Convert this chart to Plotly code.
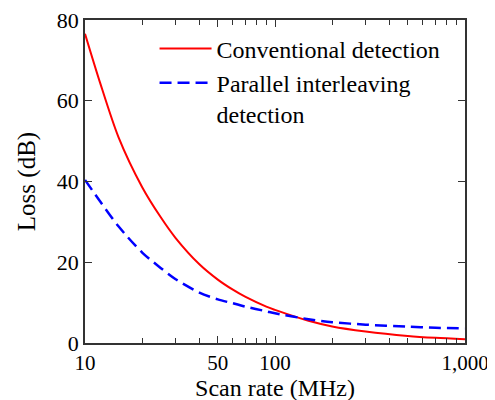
import plotly.graph_objects as go

scan_rate = [10, 12, 15, 20, 25, 30, 40, 50, 60, 70, 90, 100, 150, 200, 300, 500, 700, 1000]
conventional = [76.6, 64.5, 51.0, 38.6, 31.2, 26.0, 19.5, 15.7, 13.2, 11.4, 9.0, 8.2, 5.5, 4.1, 2.85, 1.75, 1.28, 0.92]
parallel = [40.4, 35.1, 28.9, 22.4, 18.6, 15.8, 12.5, 10.8, 9.85, 9.0, 7.85, 7.35, 5.9, 5.15, 4.55, 4.05, 3.78, 3.6]

x_tickvals = [10, 50, 100, 1000]
x_ticktext = ["10", "50", "100", "1,000"]
x_minor = [20, 30, 40, 60, 70, 80, 90, 200, 300, 400, 500, 600, 700, 800, 900]
y_tickvals = [0, 20, 40, 60, 80]

FONT = "Liberation Serif"

fig = go.Figure()
fig.add_trace(go.Scatter(x=scan_rate, y=conventional, mode="lines",
                         name="Conventional detection",
                         line=dict(color="#ff0000", width=2, shape="spline", smoothing=0.8)))
fig.add_trace(go.Scatter(x=scan_rate, y=parallel, mode="lines",
                         name="Parallel interleaving<br>detection",
                         line=dict(color="#0000ff", width=2.5, dash="12px,6px", shape="spline", smoothing=0.8)))

axis_common = dict(showline=True, linecolor="#333333", linewidth=1.5, mirror="allticks",
                   ticks="inside", tickcolor="#333333", ticklen=7, showgrid=False, zeroline=False,
                   automargin=False, ticklabeloverflow="allow",
                   tickfont=dict(family=FONT, size=22, color="black"))

fig.update_xaxes(type="log", range=[1, 3], tickmode="array", tickvals=x_tickvals,
                 ticktext=x_ticktext,
                 minor=dict(tickmode="array", tickvals=x_minor, ticks="inside", ticklen=5,
                            tickcolor="#333333", showgrid=False),
                 **axis_common)
fig.update_xaxes(tickfont=dict(family=FONT, size=21, color="black"),
                 title=dict(text="Scan rate (MHz)", font=dict(family=FONT, size=24, color="black"),
                            standoff=0))
fig.update_yaxes(range=[0, 80], tickmode="array", tickvals=y_tickvals,
                 title=dict(text="Loss (dB)", font=dict(family=FONT, size=25, color="black"),
                            standoff=14),
                 **axis_common)

fig.update_layout(
    template="none",
    width=495, height=400,
    margin=dict(l=77, r=38, t=12, b=65),
    paper_bgcolor="white", plot_bgcolor="white",
    font=dict(family=FONT, size=22, color="black"),
    legend=dict(x=0.183, y=0.98, xanchor="left", yanchor="top", valign="top",
                itemwidth=52,
                bgcolor="rgba(0,0,0,0)", font=dict(family=FONT, size=24, color="black"),
                tracegroupgap=10),
    showlegend=True,
)

fig.write_html("out.html")
